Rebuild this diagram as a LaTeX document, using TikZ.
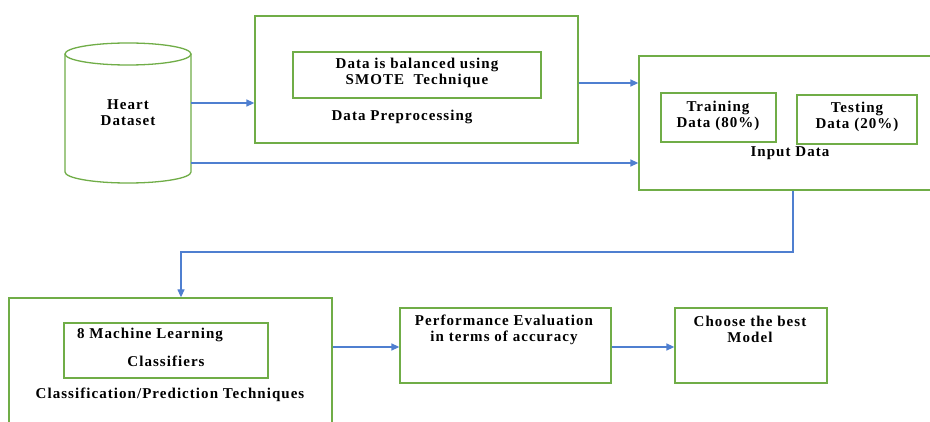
\documentclass[tikz,border=0pt]{standalone}
\usepackage{fontspec}
\setmainfont{Liberation Serif}[LetterSpace=7]
\usetikzlibrary{arrows.meta}
\definecolor{boxgreen}{HTML}{70AD47}
\definecolor{linkblue}{HTML}{4F7FD0}
\tikzset{
  frame/.style={draw=boxgreen, line width=1.3pt, fill=none, inner sep=0pt},
  lbl/.style={font=\fontsize{15}{16}\selectfont\bfseries, inner sep=0pt, align=center},
  link/.style={draw=linkblue, line width=1.3pt,
    -{Triangle[length=8pt,width=7pt]}},
}
\begin{document}
\begin{tikzpicture}[x=1pt,y=-1pt]
\useasboundingbox (0,0) rectangle (930,422);
\clip (0,0) rectangle (930,422);
\fill[white] (0,0) rectangle (930,422);

% dataset cylinder
\draw[boxgreen, line width=1.3pt, fill=white]
  (65,54) -- (65,172) arc[start angle=180, end angle=0, x radius=63, y radius=11]
  -- (191,54);
\draw[boxgreen, line width=1.3pt] (128,54) ellipse [x radius=63, y radius=11];
\node[lbl, minimum width=126pt, minimum height=120pt] (heart) at (128,113) {Heart\\Dataset};

% data preprocessing
\node[frame, minimum width=323pt, minimum height=127pt] (prep) at (416.5,79.5) {};
\node[frame, minimum width=248pt, minimum height=46pt] (smote) at (417,75) {};
\node[lbl] (smotetxt) at (417,72.5) {Data is balanced using\\SMOTE\ \ Technique};
\node[lbl] (preptxt) at (402,117) {Data Preprocessing};

% input data
\node[frame, minimum width=301pt, minimum height=134pt] (input) at (789.5,123) {};
\node[frame, minimum width=115pt, minimum height=49pt] (train) at (718.5,117.5) {};
\node[lbl] (traintxt) at (718,116) {Training\\Data (80\%)};
\node[frame, minimum width=120pt, minimum height=49pt] (test) at (857,119.5) {};
\node[lbl] (testtxt) at (857,116.5) {Testing\\Data (20\%)};
\node[lbl] (inputtxt) at (790,153.5) {Input Data};

% classification
\node[frame, minimum width=323pt, minimum height=142pt] (clf) at (170.5,369) {};
\node[frame, minimum width=204pt, minimum height=55pt] (ml) at (166,350.5) {};
\node[lbl, anchor=west] (mltxt) at (77,334.5) {8 Machine Learning};
\node[lbl] (clstxt) at (166,361) {Classifiers};
\node[lbl] (clftxt) at (170,395) {Classification/Prediction Techniques};

% evaluation and selection
\node[frame, minimum width=211pt, minimum height=75pt] (perf) at (505.5,345.5) {};
\node[lbl] (perftxt) at (504,329.5) {Performance Evaluation\\in terms of accuracy};
\node[frame, minimum width=152pt, minimum height=75pt] (best) at (751,345.5) {};
\node[lbl] (besttxt) at (750,329.5) {Choose the best\\Model};

% connectors
\coordinate (bendA) at (793,252);
\coordinate (bendB) at (181,252);
\draw[link] (heart.east |- 0,103) -- (prep.west |- 0,103);
\draw[link] (heart.east |- 0,163) -- (input.west |- 0,163);
\draw[link] (prep.east |- 0,83) -- (input.west |- 0,83);
\draw[link] (input.south -| bendA) -- (bendA) -- (bendB) -- (clf.north -| bendB);
\draw[link] (clf.east |- 0,347) -- (perf.west |- 0,347);
\draw[link] (perf.east |- 0,347) -- (best.west |- 0,347);
\end{tikzpicture}
\end{document}
